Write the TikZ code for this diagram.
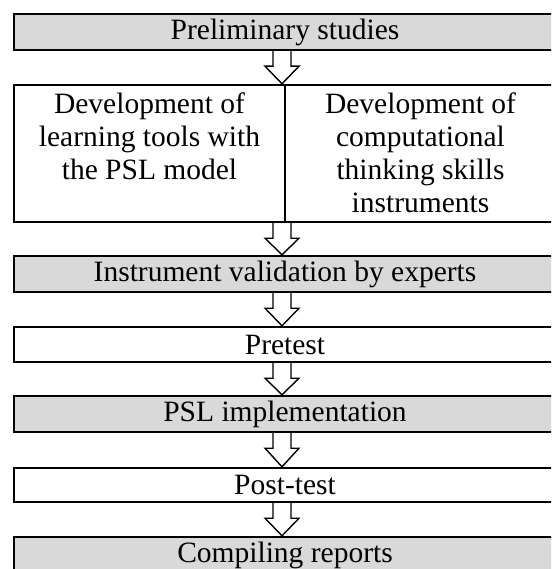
\documentclass[tikz,border=0pt]{standalone}
\usepackage{fontspec}
\setmainfont{Liberation Serif}
\usetikzlibrary{calc}

\definecolor{stepgray}{HTML}{D9D9D9}

\tikzset{
  stage/.style={draw=black, line width=2.4pt, minimum width=542pt, inner sep=0pt,
    font=\fontsize{29.5}{33}\selectfont, anchor=center},
  shaded/.style={stage, fill=stepgray},
  plain/.style={stage, fill=white},
  colText/.style={align=center, inner sep=0pt, anchor=north,
    font=\fontsize{29.5}{33}\selectfont},
  blockarr/.style={draw=black, fill=white, line width=1.4pt, line join=miter},
}

% hollow block arrow from the bottom of one stage to the top of the next
\newcommand\stagearrow[2]{%
  \draw[blockarr]
    ($(#1.south)+(-12,0)$) -- ($(#1.south)+(-12,15)$) -- ($(#1.south)+(-20,15)$)
    -- ($(#2.north)+(-3,0)$)
    -- ($(#1.south)+(14,15)$) -- ($(#1.south)+(6,15)$) -- ($(#1.south)+(6,0)$);}

\begin{document}
\begin{tikzpicture}[x=1pt, y=-1pt]
  \useasboundingbox (0,0) rectangle (551,569);
  \clip (0,0) rectangle (551,569);

  \node[shaded, minimum height=36pt] (s1) at (285,32) {Preliminary studies};
  \node[plain, minimum height=137pt] (s2) at (285,153.5) {};
  \draw[line width=2.4pt] (s2.north) -- (s2.south);
  \node[colText] (s2l) at (149.5,93) {Development of\\learning tools with\\the PSL model};
  \node[colText] (s2r) at (420.5,93) {Development of\\computational\\thinking skills\\instruments};
  \node[shaded, minimum height=36pt] (s3) at (285,274) {Instrument validation by experts};
  \node[plain, minimum height=35pt] (s4) at (285,344.5) {Pretest};
  \node[shaded, minimum height=36pt] (s5) at (285,414) {PSL implementation};
  \node[plain, minimum height=34pt] (s6) at (285,485) {Post-test};
  \node[shaded, minimum height=36pt] (s7) at (285,555) {Compiling reports};

  \stagearrow{s1}{s2}
  \stagearrow{s2}{s3}
  \stagearrow{s3}{s4}
  \stagearrow{s4}{s5}
  \stagearrow{s5}{s6}
  \stagearrow{s6}{s7}
\end{tikzpicture}
\end{document}
